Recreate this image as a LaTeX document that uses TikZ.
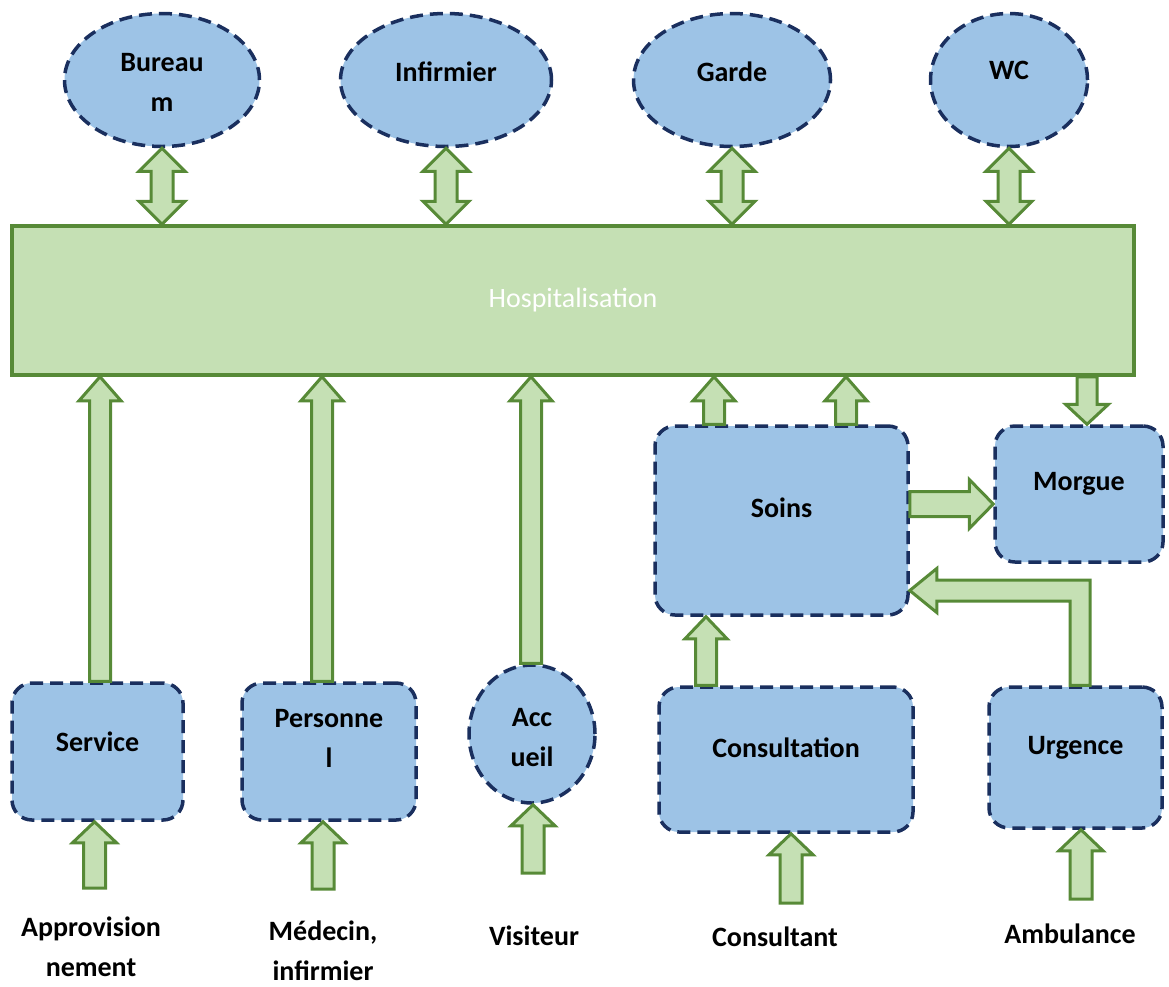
\documentclass[tikz,border=0pt]{standalone}
\usepackage{fontspec}
\setmainfont{Carlito}
\usetikzlibrary{shapes.geometric,calc}

\definecolor{bleu}{HTML}{9DC3E6}
\definecolor{marine}{HTML}{1A2F5E}
\definecolor{vert}{HTML}{578A37}
\definecolor{vertclair}{HTML}{C5E0B4}

% fleche pleine : depart, arrivee, demi-corps, demi-tete, longueur de tete
\newcommand{\fleche}[5]{%
  \path ($(#2)!#5!(#1)$) coordinate (fl-base);
  \filldraw[flux] ($(#1)!#3!90:(#2)$) -- ($(fl-base)!#3!90:(#2)$) -- ($(fl-base)!#4!90:(#2)$) -- (#2)
    -- ($(fl-base)!#4!-90:(#2)$) -- ($(fl-base)!#3!-90:(#2)$) -- ($(#1)!#3!-90:(#2)$) -- cycle;
}
% fleche double
\newcommand{\doublefleche}[5]{%
  \path ($(#1)!#5!(#2)$) coordinate (fl-a) ($(#2)!#5!(#1)$) coordinate (fl-b);
  \filldraw[flux] (#1) -- ($(fl-a)!#4!90:(#2)$) -- ($(fl-a)!#3!90:(#2)$) -- ($(fl-b)!#3!-90:(#1)$) -- ($(fl-b)!#4!-90:(#1)$) -- (#2)
    -- ($(fl-b)!#4!90:(#1)$) -- ($(fl-b)!#3!90:(#1)$) -- ($(fl-a)!#3!-90:(#2)$) -- ($(fl-a)!#4!-90:(#2)$) -- cycle;
}

\begin{document}
\begin{tikzpicture}[x=1pt, y=-1pt]
        \tikzstyle{bloc}=[draw=marine, fill=bleu, line width=3.5pt, dash pattern=on 13pt off 7pt, rounded corners=20pt, inner sep=0pt];
        \tikzstyle{bulle}=[draw=marine, fill=bleu, line width=3.5pt, dash pattern=on 13pt off 7pt, ellipse, inner sep=0pt];
        \tikzstyle{lbl}=[font=\bfseries\fontsize{28}{40}\selectfont, align=center, text=black];
        \tikzstyle{flux}=[draw=vert, fill=vertclair, line width=3pt, solid];

        \useasboundingbox (0,0) rectangle (1169,986);

        \node[draw=vert, fill=vertclair, line width=3.5pt, minimum width=1122, minimum height=149, inner sep=0,
          text=white, font=\fontsize{28}{34}\selectfont] (hosp) at (573,300.5) {Hospitalisation};

        % en haut
        \foreach \nom/\txt/\x/\w/\dy in {bureau/{Bureau\\m}/162/195/-2, infirmier/Infirmier/446/211/8, garde/Garde/732/197/8, wc/WC/1009/157/10}{
          \node[bulle, minimum width=\w, minimum height=133, label={[lbl, yshift=\dy]center:\txt}] (\nom) at (\x,80) {};
          \coordinate (\nom-h) at (hosp.north -| \nom.south);
          \doublefleche{\nom.south}{\nom-h}{11pt}{23pt}{23pt}
        }

        % en bas
        \node[bloc, minimum width=171, minimum height=137, label={[lbl, yshift=10]center:Service}] (service) at (97.5,751.5) {};
        \node[bloc, minimum width=174, minimum height=137, label={[lbl, yshift=13]center:{Personne\\l}}] (personnel) at (329,751.5) {};
        \node[bulle, minimum width=126, minimum height=138, label={[lbl, yshift=-4]center:{Acc\\ueil}}] (accueil) at (532,734) {};
        \node[bloc, minimum width=254, minimum height=145, label={[lbl, yshift=12]center:Consultation}] (consultation) at (786,759.5) {};
        \node[bloc, minimum width=173, minimum height=141, label={[lbl, yshift=10]center:Urgence}] (urgence) at (1075.5,757.5) {};
        \node[bloc, minimum width=253, minimum height=189, label={[lbl, yshift=13]center:Soins}] (soins) at (781.5,520.5) {};
        \node[bloc, minimum width=168, minimum height=136, label={[lbl, yshift=10]center:Morgue}] (morgue) at (1079,494) {};

        \foreach \nom/\dx in {service/2.5, personnel/-7, accueil/-1}{
          \coordinate (\nom-a) at ([xshift=\dx]\nom.north);
          \coordinate (\nom-b) at (hosp.south -| \nom-a);
          \fleche{\nom-a}{\nom-b}{10.5pt}{21pt}{24pt}
        }
        \foreach \dx/\i in {-67.5/1, 64.5/2}{
          \coordinate (soins-a\i) at ([xshift=\dx]soins.north);
          \coordinate (soins-b\i) at (hosp.south -| soins-a\i);
          \fleche{soins-a\i}{soins-b\i}{10.5pt}{21pt}{24pt}
        }
        \coordinate (morgue-b) at ([xshift=8]morgue.north);
        \coordinate (morgue-a) at (hosp.south -| morgue-b);
        \fleche{morgue-a}{morgue-b}{10pt}{21.5pt}{20pt}

        \coordinate (sm-a) at ([yshift=16.5]soins.east);
        \coordinate (sm-b) at (morgue.west |- sm-a);
        \fleche{sm-a}{sm-b}{12.5pt}{24.5pt}{24pt}

        \coordinate (consultation-a) at ([xshift=-80]consultation.north);
        \coordinate (consultation-b) at (soins.south -| consultation-a);
        \fleche{consultation-a}{consultation-b}{10.5pt}{21pt}{22pt}

        % urgence -> soins
        \coordinate (urgence-a) at ([xshift=4.5]urgence.north);
        \coordinate (urgence-b) at ([yshift=-70]soins.east);
        \filldraw[flux] ($(urgence-a)+(-10,0)$) |- ($(urgence-b)+(27,10.5)$) -- ++(0,11.5) -- (urgence-b)
          -- ++(27,-22) -- ++(0,11.5) -| ($(urgence-a)+(10,0)$) -- cycle;

        % entrees
        \foreach \nom/\x/\y in {service/94.5/888, personnel/323/889, accueil/533/873, consultation/791/903, urgence/1081/899}{
          \coordinate (in-\nom) at (\x,\y);
          \coordinate (out-\nom) at (\nom.south -| in-\nom);
          \fleche{in-\nom}{out-\nom}{11pt}{22pt}{21pt}
        }
        \node[lbl] (approvisionnement) at (91,947) {Approvision\\nement};
        \node[lbl] (medecin) at (323,951) {Médecin,\\infirmier};
        \node[lbl] (visiteur) at (534,936) {Visiteur};
        \node[lbl] (consultant) at (775,937) {Consultant};
        \node[lbl] (ambulance) at (1070,934) {Ambulance};
    \end{tikzpicture}
\end{document}
